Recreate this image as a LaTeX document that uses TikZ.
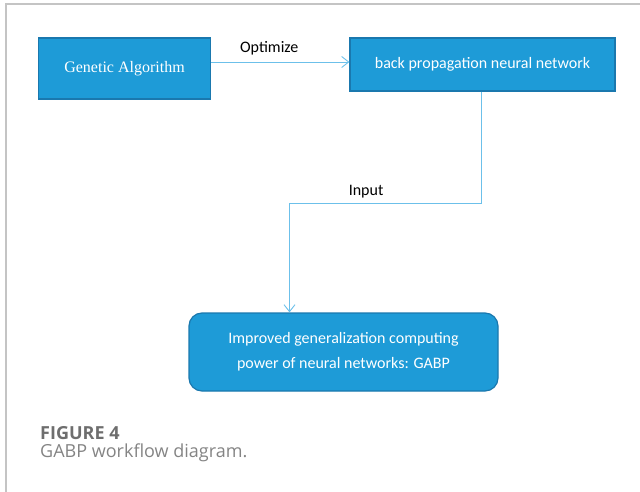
\documentclass[tikz,border=0pt]{standalone}
\usepackage{fontspec}
\setmainfont{Carlito}
\newfontfamily\gafont{Liberation Serif}
\newfontfamily\capfont{Open Sans}
\usetikzlibrary{arrows.meta, positioning}

\definecolor{boxblue}{HTML}{1E9BD7}
\definecolor{boxedge}{HTML}{1A78AE}
\definecolor{linkblue}{HTML}{6CC0EA}
\definecolor{framegray}{HTML}{C4C4C4}
\definecolor{capgray}{HTML}{6E6E6E}

\begin{document}
\begin{tikzpicture}[
    x=1pt, y=1pt,
    >={Straight Barb[length=7pt, width=11pt]},
    box/.style={draw=boxedge, line width=1.2pt, fill=boxblue, text=white,
                inner sep=0pt, font=\fontsize{16}{25}\selectfont},
    link/.style={draw=linkblue, line width=0.9pt},
    tag/.style={font=\fontsize{16}{19}\selectfont, text=black}
  ]
  \useasboundingbox (0,0) rectangle (640,-492);
  \draw[framegray, line width=1.4pt] (6,-492) -- (6,-4) -- (640,-4);

  \node[box, minimum width=172pt, minimum height=61pt,
        font=\gafont\fontsize{16}{20}\selectfont] (ga) at (124.5,-68.5)
    {Genetic Algorithm};
  \node[box, minimum width=265pt, minimum height=53pt] (bp) at (482.5,-64.5)
    {back propagation neural network};
  \node[box, rounded corners=13pt, minimum width=309pt, minimum height=78pt,
        align=center] (res) at (343.5,-352)
    {Improved generalization computing\\power of neural networks: GABP};

  \coordinate (turn) at (289.5,-203);

  \draw[link, ->] (ga.east |- 0,-62) -- (bp.west |- 0,-62)
    node[tag, midway, above=3pt, xshift=-11pt] {Optimize};
  \draw[link] (bp.south -| 481,0) |- (turn)
    node[tag, pos=0.8, above=1pt] {Input};
  \draw[link, ->] (turn) -- (turn |- res.north);

  % caption
  \node[anchor=base west, inner sep=0pt, text=capgray,
        font=\capfont\bfseries\fontsize{18}{19}\selectfont] (fig) at (40,-439)
    {FIGURE 4};
  \node[anchor=base west, inner sep=0pt, text=capgray!85,
        font=\capfont\fontsize{18}{19}\selectfont] (capt) at (40,-457)
    {GABP workflow diagram.};
\end{tikzpicture}
\end{document}
